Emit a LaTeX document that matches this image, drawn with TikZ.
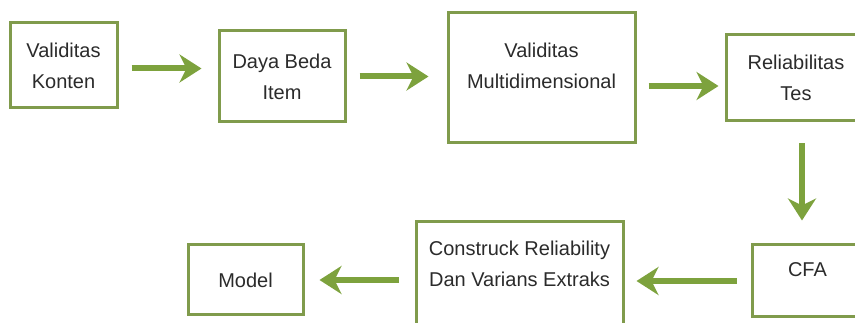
\documentclass[tikz,border=0pt]{standalone}
\usepackage{fontspec}
\setmainfont{Liberation Sans}
\usepackage{xcolor}
\usepackage{tikz}
\usetikzlibrary{arrows.meta}
\definecolor{boxgreen}{HTML}{809B4C}
\definecolor{arrowgreen}{HTML}{7DA23D}
\definecolor{textgray}{HTML}{2B2B2B}
\tikzset{
  flow/.style={-{Stealth[length=22pt,width=28pt,inset=7pt]},line width=6pt,draw=arrowgreen},
  stage/.style={draw=boxgreen,line width=3pt,fill=white,align=center,inner sep=3pt,
    text=textgray,font=\fontsize{20}{31}\selectfont}
}

\begin{document}
\begin{tikzpicture}[x=1pt,y=-1pt]
  \useasboundingbox (0,0) rectangle (855,323);
  \clip (0,0) rectangle (855,323);

  \node[stage,minimum width=107pt,minimum height=85pt] (konten) at (63.5,65.5) {Validitas\\Konten};
  \node[stage,minimum width=126pt,minimum height=91pt] (item) at (282,76.5) {Daya Beda\\Item};
  \node[stage,minimum width=187pt,minimum height=130pt] (multi) at (541.5,78) {Validitas\\Multidimensional\\[-7pt]~};
  \node[stage,minimum width=140pt,minimum height=86pt] (tes) at (796,78) {Reliabilitas\\Tes};

  \node[stage,minimum width=111pt,minimum height=72pt] (cfa) at (807.5,281) {CFA\\[-9pt]~};
  \node[stage,minimum width=207pt,minimum height=108pt] (construct) at (519.5,276) {Construck Reliability\\Dan Varians Extraks\\[-7pt]~};
  \node[stage,minimum width=115pt,minimum height=70pt] (model) at (245.5,280) {Model};

  \draw[flow,shorten <=13pt,shorten >=16pt] ([yshift=-3pt]konten.east) -- ([yshift=-3pt]konten.east -| item.west);
  \draw[flow,shorten <=13pt,shorten >=18pt] (item.east) -- (item.east -| multi.west);
  \draw[flow,shorten <=12pt,shorten >=6pt] ([yshift=-8pt]multi.east) -- ([yshift=-8pt]multi.east -| tes.west);
  \draw[flow,shorten <=21pt,shorten >=23pt] ([xshift=6pt]tes.south) -- ([xshift=6pt]tes.south |- cfa.north);
  \draw[flow,shorten <=14pt,shorten >=12pt] (cfa.west) -- (cfa.west -| construct.east);
  \draw[flow,shorten <=16pt,shorten >=15pt] (construct.west |- model) -- (model.east);
\end{tikzpicture}
\end{document}
